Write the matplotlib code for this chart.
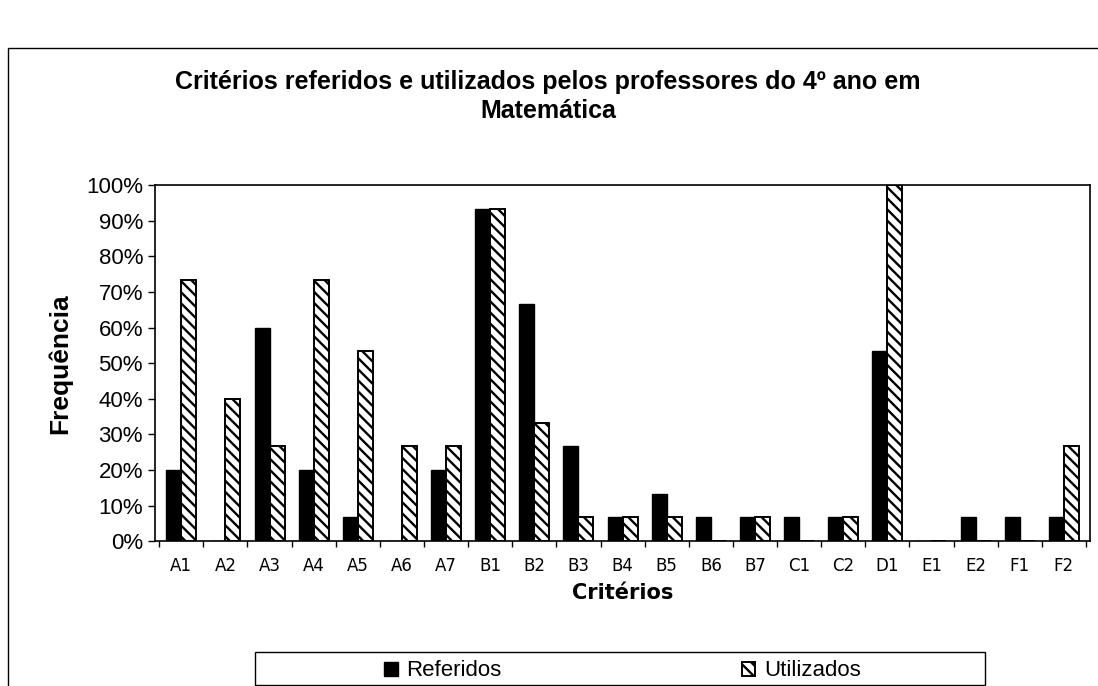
import numpy as np
import matplotlib
matplotlib.use("Agg")
import matplotlib.pyplot as plt
from matplotlib.patches import Rectangle
from matplotlib.ticker import PercentFormatter

criterios = ["A1", "A2", "A3", "A4", "A5", "A6", "A7",
             "B1", "B2", "B3", "B4", "B5", "B6", "B7",
             "C1", "C2", "D1", "E1", "E2", "F1", "F2"]
referidos = [20.0, 0.0, 60.0, 20.0, 6.7, 0.0, 20.0,
             93.3, 66.7, 26.7, 6.7, 13.3, 6.7, 6.7,
             6.7, 6.7, 53.3, 0.0, 6.7, 6.7, 6.7]
utilizados = [73.3, 40.0, 26.7, 73.3, 53.3, 26.7, 26.7,
              93.3, 33.3, 6.7, 6.7, 6.7, 0.0, 6.7,
              0.0, 6.7, 100.0, 0.0, 0.0, 0.0, 26.7]

plt.rcParams['font.family'] = ['Liberation Sans', 'DejaVu Sans']
plt.rcParams['hatch.linewidth'] = 1.7

fig = plt.figure(figsize=(10.98, 6.86), dpi=100)
ax = fig.add_axes([0.141, 0.211, 0.852, 0.519])

x = np.arange(len(criterios))
w = 0.34
ax.bar(x - w/2, referidos, w, color='black', edgecolor='black', label='Referidos')
ax.bar(x + w/2, utilizados, w, color='white', edgecolor='black', linewidth=1.4,
       hatch='\\\\\\', label='Utilizados')

ax.set_xlim(-0.6, len(criterios) - 0.4)
ax.set_ylim(0, 100)
ax.set_yticks(np.arange(0, 101, 10))
ax.yaxis.set_major_formatter(PercentFormatter(decimals=0))
ax.tick_params(axis='y', labelsize=16, length=5, width=1)
ax.set_xticks(x)
ax.set_xticklabels(criterios, family='DejaVu Sans', fontsize=12)
ax.set_xticks(np.arange(-0.5, len(criterios), 1), minor=True)
ax.tick_params(axis='x', which='major', length=0, pad=11)
ax.tick_params(axis='x', which='minor', length=4, width=1)
for s in ax.spines.values():
    s.set_linewidth(1.2)

ax.set_ylabel('Frequência', fontsize=19, fontweight='bold', labelpad=10)
ax.set_xlabel('Critérios', fontsize=15, fontweight='bold', family='DejaVu Sans', labelpad=6)

fig.text(0.499, 0.859, 'Critérios referidos e utilizados pelos professores do 4º ano em\nMatemática',
         ha='center', va='center', fontsize=18, fontweight='bold', linespacing=1.25)

# outer chart frame
fig.patches.append(Rectangle((0.007, -0.1), 1.2, 1.03, transform=fig.transFigure,
                             fill=False, edgecolor='black', linewidth=1.0))
# legend box
fig.patches.append(Rectangle((255/1098, 0.002), 730/1098, 33/686, transform=fig.transFigure,
                             fill=False, edgecolor='black', linewidth=1.0))
fig.legend(loc='center', bbox_to_anchor=(0.567, 0.022), ncol=2, frameon=False,
           fontsize=16, handlelength=0.6, handleheight=0.6, handletextpad=0.4,
           columnspacing=10.8)

fig.savefig('out.png', dpi=100)
